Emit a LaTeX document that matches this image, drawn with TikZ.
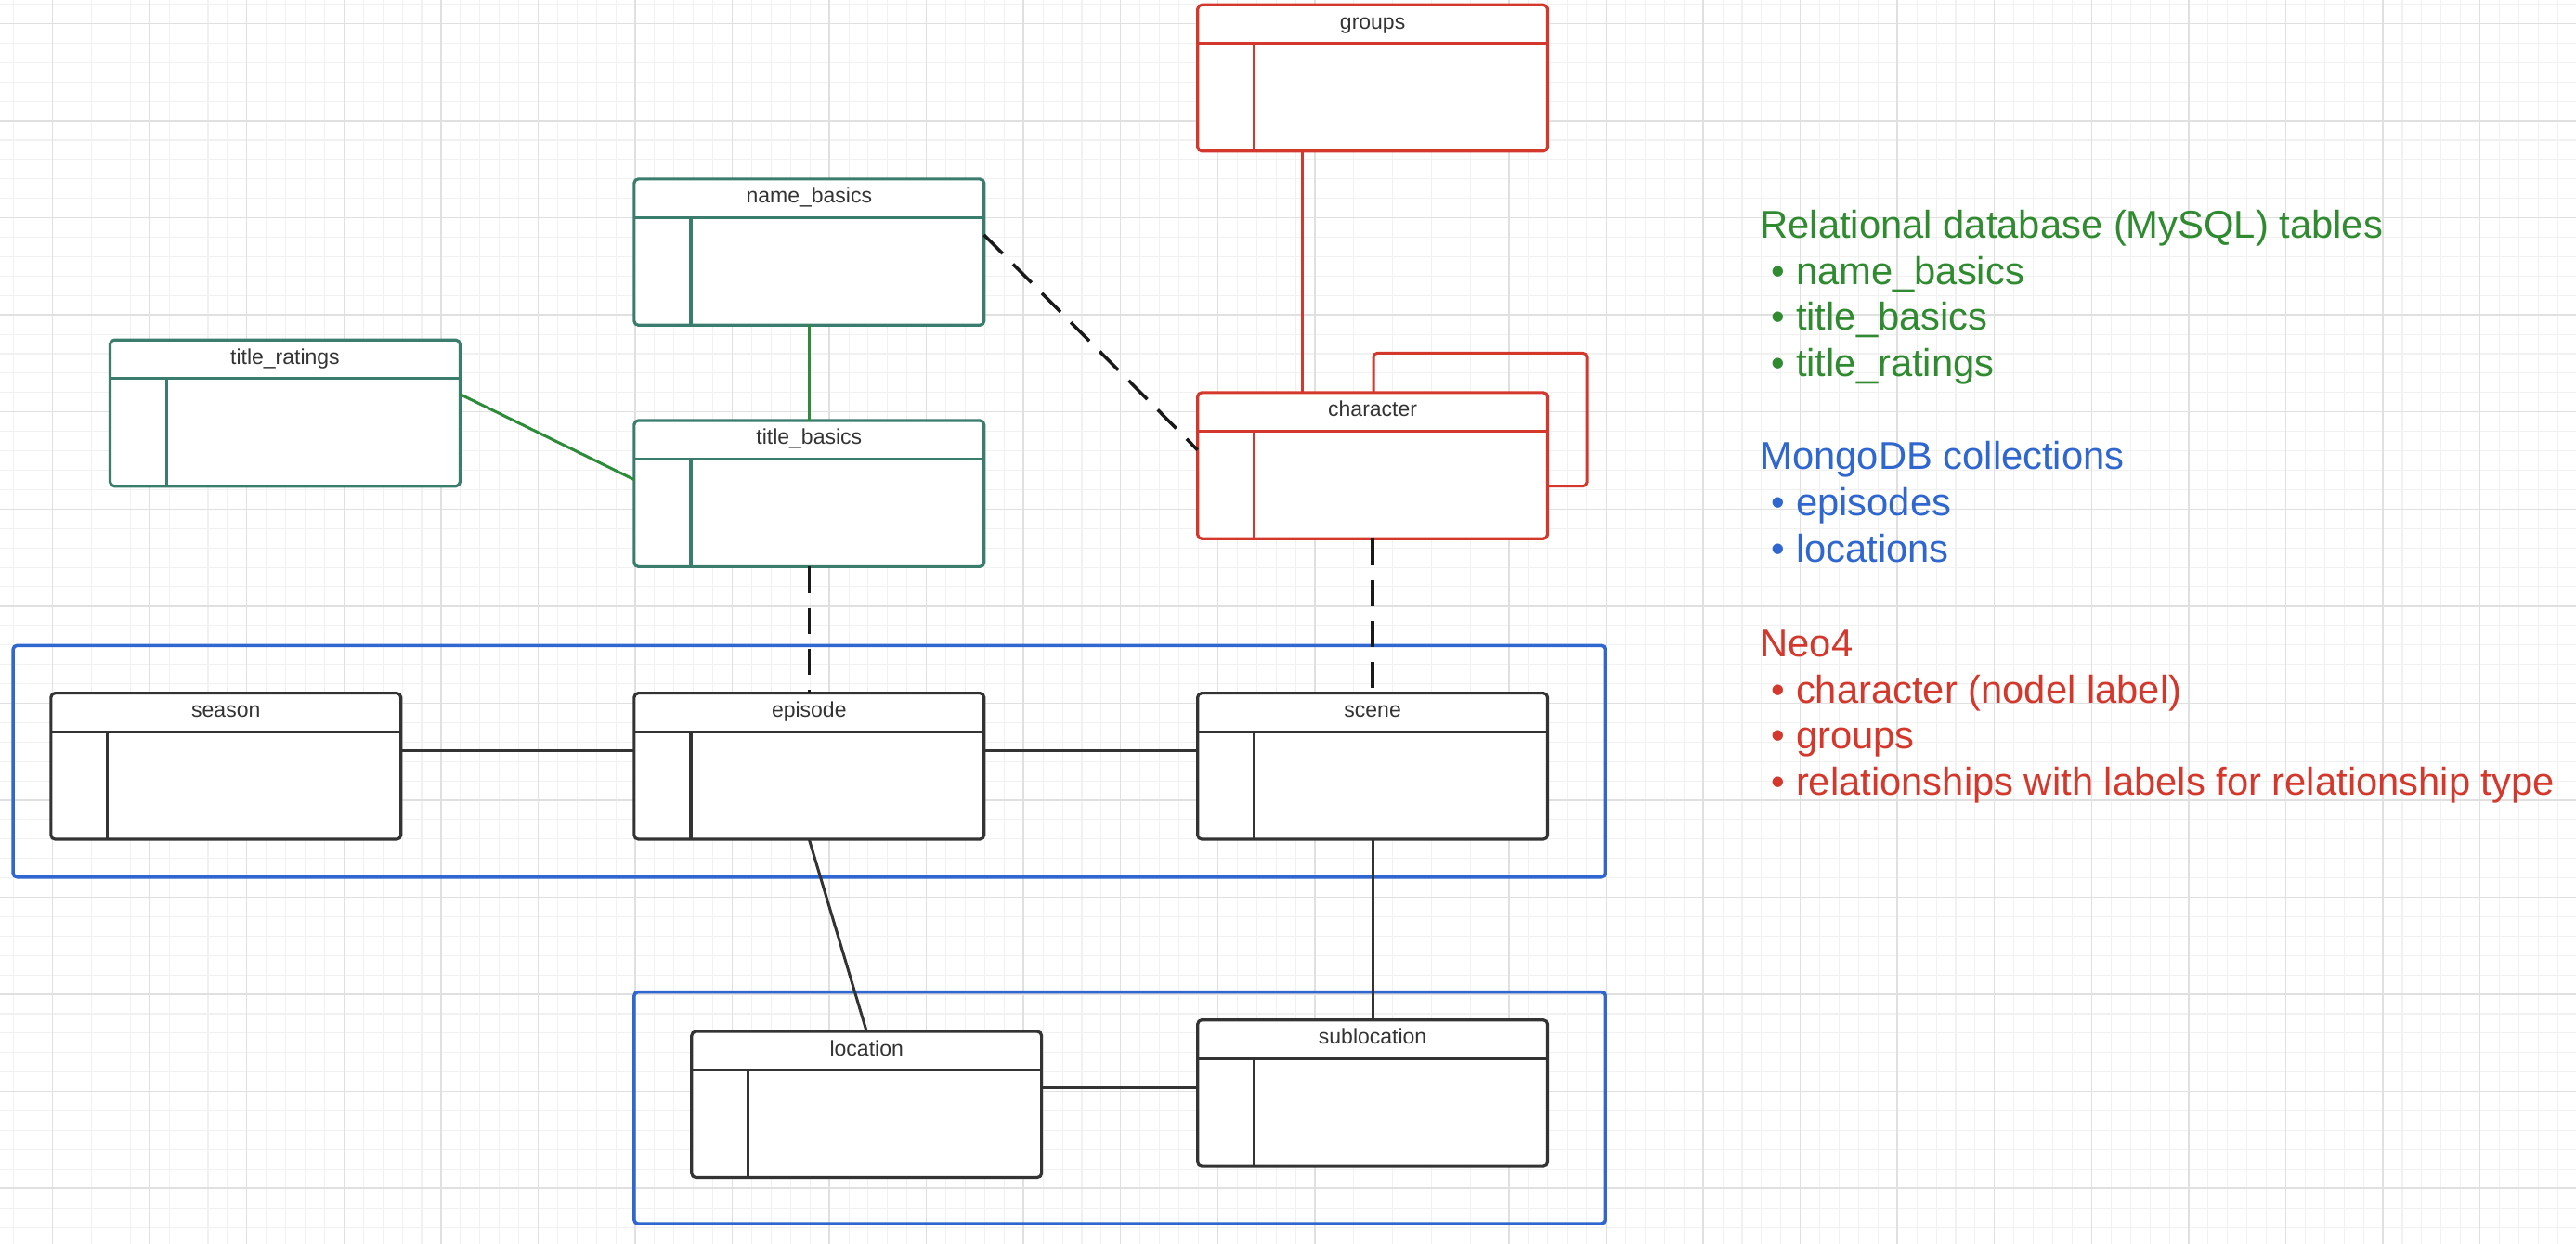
\documentclass[tikz,border=0pt]{standalone}
\usepackage{fontspec}
\setmainfont{Liberation Sans}
\usetikzlibrary{calc}

\definecolor{gridminor}{HTML}{F1F1F1}
\definecolor{gridmajor}{HTML}{E0E0E0}
\definecolor{sqlteal}{HTML}{3B7D6D}
\definecolor{sqlgreen}{HTML}{2E8B3A}
\definecolor{sqltext}{HTML}{2F8A30}
\definecolor{neored}{HTML}{D4382C}
\definecolor{mongoblue}{HTML}{2F66CF}
\definecolor{inkgray}{HTML}{333333}

\tikzset{
  tablebox/.style={draw=#1, fill=white, rounded corners=1.3pt, line width=0.9pt,
    minimum width=106.5pt, minimum height=44.5pt, anchor=north west,
    inner sep=0pt, outer sep=0pt},
  tabletitle/.style={font=\fontsize{6.5}{7}\selectfont, text=inkgray,
    inner sep=0pt, anchor=base},
  container/.style={draw=mongoblue, line width=1pt, rounded corners=1.2pt},
  sqllink/.style={draw=sqlgreen, line width=0.85pt},
  neolink/.style={draw=neored, line width=0.85pt},
  doclink/.style={draw=inkgray, line width=0.85pt},
  crosslink/.style={draw=black!90, line width=1pt, dash pattern=on 8pt off 4.5pt},
  legendhead/.style={font=\fontsize{11.8}{14}\selectfont, anchor=base west, inner sep=0pt},
}

% One ER table: name, colour, left, top, title
\newcommand{\ertable}[5]{%
  \node[tablebox=#2] (#1) at (#3,#4) {};
  \draw[#2, line width=0.9pt] ($(#1.north west)+(0,23.5)$) -- ($(#1.north east)+(0,23.5)$);
  \draw[#2, line width=0.9pt] ($(#1.north west)+(34.5,23.5)$) -- ($(#1.south west)+(34.5,0)$);
  \node[tabletitle] (#1-title) at ($(#1.north)+(0,14.7)$) {#5};
}

\begin{document}
\begin{tikzpicture}[x=0.5pt, y=-0.5pt]
  % canvas
  \fill[white] (0,0) rectangle (1568,757.4);
  \useasboundingbox (0,0) rectangle (1568,757.4);

  % grid paper
  \foreach \i in {0,...,132} {
    \draw[gridminor, line width=0.3pt] ({8.4+\i*11.82},0) -- ++(0,757.4);
  }
  \foreach \i in {0,...,64} {
    \draw[gridminor, line width=0.3pt] (0,{2.6+\i*11.82}) -- ++(1568,0);
  }
  \foreach \i in {0,...,26} {
    \draw[gridmajor, line width=0.4pt] ({32+\i*59.1},0) -- ++(0,757.4);
  }
  \foreach \i in {0,...,12} {
    \draw[gridmajor, line width=0.4pt] (0,{14.4+\i*59.1}) -- ++(1568,0);
  }

  % document-store groupings
  \draw[container] (8,393) rectangle (977,534);
  \draw[container] (386,604) rectangle (977,745);

  % relational tables
  \ertable{tr}{sqlteal}{67}{207}{title\_ratings}
  \ertable{nb}{sqlteal}{386}{109}{name\_basics}
  \ertable{tb}{sqlteal}{386}{256}{title\_basics}

  % graph nodes
  \ertable{gr}{neored}{729}{3}{groups}
  \ertable{ch}{neored}{729}{239}{character}

  % documents
  \ertable{se}{inkgray}{31}{422}{season}
  \ertable{ep}{inkgray}{386}{422}{episode}
  \ertable{sc}{inkgray}{729}{422}{scene}
  \ertable{lo}{inkgray}{421}{628}{location}
  \ertable{sl}{inkgray}{729}{621}{sublocation}

  % relational links
  \draw[sqllink] ($(tr.north east)+(0,33)$) -- ($(tb.north west)+(0,36)$);
  \draw[sqllink] (nb.south) -- (tb.north);

  % graph links
  \draw[neolink] ($(gr.south west)+(64,0)$) -- ($(ch.north west)+(64,0)$);
  \draw[neolink, rounded corners=1.2pt] ($(ch.north west)+(107,0)$) -- ++(0,-24)
    -| ($(ch.north east)+(24,57)$) -- ($(ch.north east)+(0,57)$);

  % links between stores
  \draw[crosslink] ($(nb.north east)+(0,34)$) -- ($(ch.north west)+(0,35)$);
  \draw[crosslink] (tb.south) -- (ep.north);
  \draw[crosslink] (ch.south) -- (sc.north);

  % document links
  \draw[doclink] ($(se.north east)+(0,35)$) -- ($(ep.north west)+(0,35)$);
  \draw[doclink] ($(ep.north east)+(0,35)$) -- ($(sc.north west)+(0,35)$);
  \draw[doclink] (ep.south) -- (lo.north);
  \draw[doclink] (sc.south) -- (sl.north);
  \draw[doclink] ($(lo.north east)+(0,34)$) -- ($(sl.north west)+(0,41)$);

  % legend
  \node[legendhead, text=sqltext] (leg1) at (1071,145) {Relational database (MySQL) tables};
  \node[legendhead, text=sqltext] (leg2) at (1078,173) {• name\_basics};
  \node[legendhead, text=sqltext] (leg3) at (1078,201) {• title\_basics};
  \node[legendhead, text=sqltext] (leg4) at (1078,229) {• title\_ratings};

  \node[legendhead, text=mongoblue] (leg5) at (1071,286) {MongoDB collections};
  \node[legendhead, text=mongoblue] (leg6) at (1078,314) {• episodes};
  \node[legendhead, text=mongoblue] (leg7) at (1078,342) {• locations};

  \node[legendhead, text=neored] (leg8) at (1071,400) {Neo4};
  \node[legendhead, text=neored] (leg9) at (1078,428) {• character (nodel label)};
  \node[legendhead, text=neored] (leg10) at (1078,456) {• groups};
  \node[legendhead, text=neored] (leg11) at (1078,484) {• relationships with labels for relationship type};
\end{tikzpicture}
\end{document}
